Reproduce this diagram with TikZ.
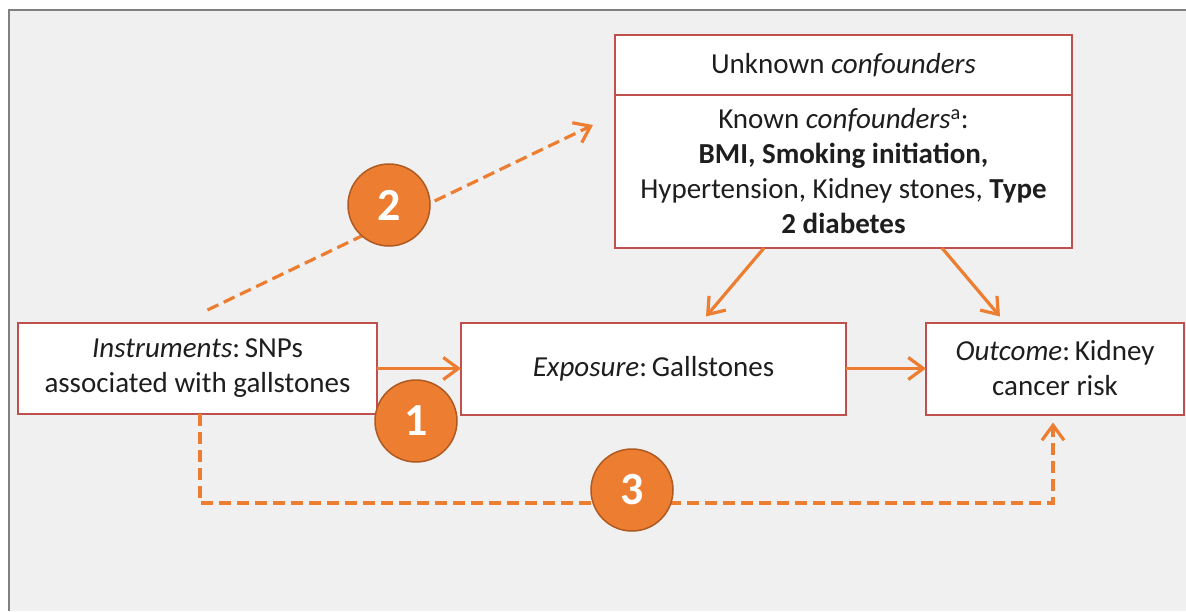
\documentclass[tikz,border=0pt]{standalone}
\usepackage{fontspec}
\setmainfont{Carlito}
\usetikzlibrary{arrows.meta,positioning}

\definecolor{accorange}{HTML}{ED7D31}
\definecolor{darkorange}{HTML}{AE5A21}
\definecolor{boxred}{HTML}{C0504D}
\definecolor{bggray}{HTML}{F0F0F0}
\definecolor{framegray}{HTML}{808080}
\definecolor{txtgray}{HTML}{1E1E1E}

\begin{document}
\begin{tikzpicture}[x=1pt,y=-1pt,>={Straight Barb[length=15pt,width=22pt]},
                    box/.style={draw=boxred,fill=white,line width=2pt,outer sep=0pt,
                                align=center,text=txtgray,font=\fontsize{29}{35}\selectfont},
                    link/.style={->,accorange,line width=3.2pt},
                    dlink/.style={link,dash pattern=on 12pt off 6pt,line join=miter},
                    badge/.style={circle,fill=accorange,draw=darkorange,line width=1.5pt,
                                  minimum size=82pt,inner sep=0pt,text=white,
                                  font=\fontsize{46}{46}\selectfont\bfseries}]
  \useasboundingbox (0,0) rectangle (1186,611);
  \fill[white] (0,0) rectangle (1186,611);
  \fill[bggray] (9,10) rectangle (1186,611);
  \draw[framegray,line width=2pt] (9,611) -- (9,10) -- (1186,10);

  \node[box,minimum width=359pt,minimum height=91pt] (instr) at (197.5,368.5)
       {\textit{Instruments}:\,SNPs\\associated with gallstones};
  \node[box,minimum width=385pt,minimum height=92pt] (expo) [right=84pt of instr]
       {\textit{Exposure}:\,Gallstones};
  \node[box,minimum width=258pt,minimum height=92pt] (outc) [right=80pt of expo]
       {\textit{Outcome}:\,Kidney\\cancer risk};
  \node[box,minimum width=457pt,minimum height=60pt] (unk) at (843.5,65)
       {Unknown \textit{confounders}};
  \node[box,minimum width=457pt,minimum height=153pt] (known) [below=0pt of unk]
       {Known \textit{confounders}\textsuperscript{a}:\\
        \textbf{BMI, Smoking initiation,}\\
        Hypertension, Kidney stones, \textbf{Type}\\
        \textbf{2 diabetes}};

  % free ends of the dashed paths
  \coordinate (tip2) at (593,125);
  \coordinate (low) at (0,503);

  \draw[link] (instr) -- (expo);
  \draw[link] (expo) -- (outc);
  \draw[link] ([xshift=-79.5pt]known.south) -- ([xshift=52.5pt,yshift=6pt]expo.north);
  \draw[link] ([xshift=98.5pt]known.south) -- ([xshift=-55pt,yshift=6pt]outc.north);
  \draw[dlink] ([xshift=10pt,yshift=13pt]instr.north) -- (tip2);
  \draw[dlink] ([xshift=2.5pt]instr.south) -- ([xshift=2.5pt]instr.south |- low)
        -- ([xshift=-2pt]outc.south |- low) -- ([xshift=-2pt,yshift=-8pt]outc.south);

  \node[badge] (n1) at (416,421) {1};
  \node[badge] (n2) at (389,205) {2};
  \node[badge] (n3) at (632,490) {3};
\end{tikzpicture}
\end{document}
